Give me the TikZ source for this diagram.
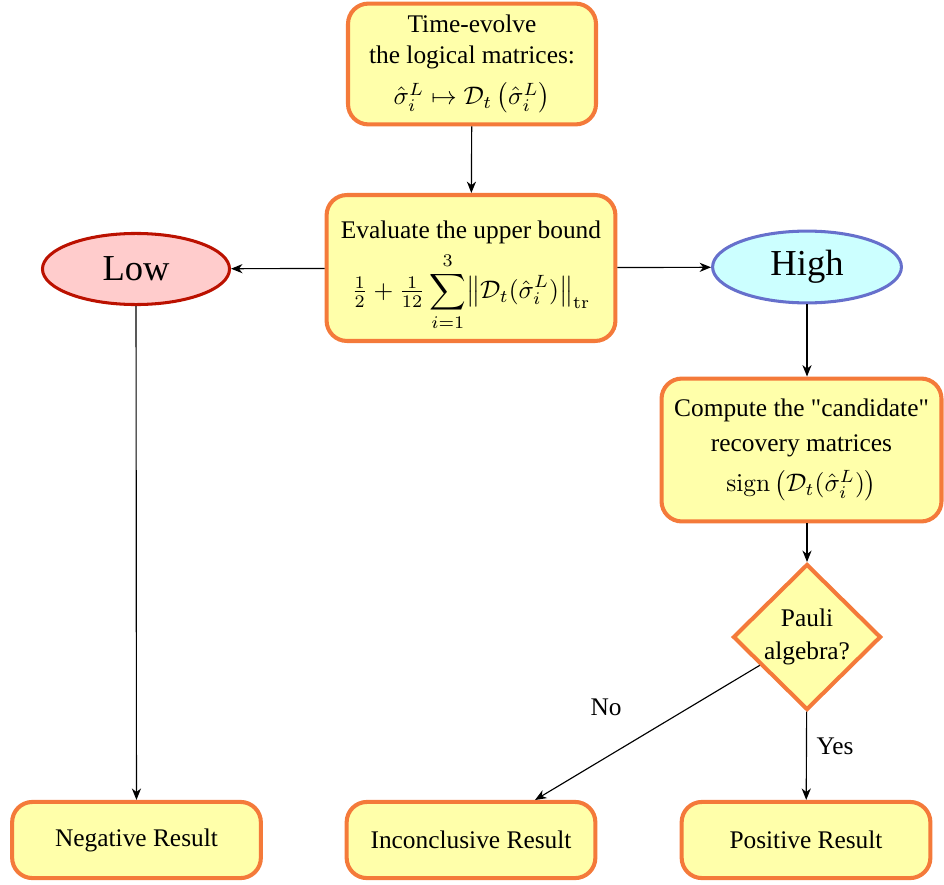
\documentclass[tikz,border=0pt]{standalone}
\usepackage{amsmath}
\usepackage[no-math]{fontspec}
\setmainfont{Liberation Serif}
\usetikzlibrary{shapes.geometric,arrows.meta}

\definecolor{boxfill}{HTML}{FFFFAA}
\definecolor{boxedge}{HTML}{F47A3A}
\definecolor{lowfill}{HTML}{FFCCCC}
\definecolor{lowedge}{HTML}{BB1100}
\definecolor{highfill}{HTML}{CCFFFF}
\definecolor{highedge}{HTML}{6670CC}

\tikzset{
  procbox/.style={draw=boxedge, fill=boxfill, line width=1.6pt, rounded corners=8pt,
    align=center, inner sep=2pt},
  resultbox/.style={procbox, minimum width=98pt, minimum height=30pt},
  lowoval/.style={ellipse, draw=lowedge, fill=lowfill, line width=1.2pt,
    minimum width=73.7pt, minimum height=28pt, inner sep=0pt, font=\Large},
  highoval/.style={ellipse, draw=highedge, fill=highfill, line width=1.2pt,
    minimum width=74.4pt, minimum height=28.3pt, inner sep=0pt, font=\Large},
  decision/.style={diamond, draw=boxedge, fill=boxfill, line width=1.6pt,
    minimum width=58.3pt, minimum height=57.5pt, inner sep=0pt, align=center},
  link/.style={-{Stealth[length=4.5pt,width=3.6pt,inset=1.4pt]}, line width=0.45pt, black}
}

\begin{document}
\begin{tikzpicture}[x=0.394pt, y=-0.394pt]
  \useasboundingbox (0,0) rectangle (944,884);

  \node[procbox, minimum width=97.7pt, minimum height=47.6pt] (evolve) at (472,64)
    {Time-evolve\\[0.5pt] the logical matrices:\\[4pt] $\hat{\sigma}_i^L \mapsto \mathcal{D}_t\left(\hat{\sigma}_i^L\right)$};

  \node[procbox, minimum width=113.8pt, minimum height=57.5pt] (bound) at (471,268)
    {\rule{0pt}{13pt}Evaluate the upper bound\\[2.5pt]
     $\tfrac{1}{2}+\tfrac{1}{12}\displaystyle\sum_{i=1}^{3}\bigl\|\mathcal{D}_t(\hat{\sigma}_i^L)\bigr\|_{\mathrm{tr}}$};

  \node[lowoval] (low) at (136,269) {Low};
  \node[highoval] (high) at (807,267) {High};

  \node[procbox, minimum width=110.3pt, minimum height=56.3pt] (cand) at (801.5,450)
    {Compute the \textquotedbl candidate\textquotedbl\\[1.5pt] recovery matrices\\[4pt]
     $\mathrm{sign}\,\bigl(\mathcal{D}_t(\hat{\sigma}_i^L)\bigr)$};

  \node[decision] (pauli) at (807,637) {Pauli\\[1pt] algebra?};

  \node[resultbox] (neg) at (136.5,840) {Negative Result};
  \node[resultbox] (inc) at (471,840) {Inconclusive Result};
  \node[resultbox] (pos) at (806,840) {Positive Result};

  \coordinate (incin) at (535,800);

  \draw[link] (evolve) -- (bound);
  \draw[link] (bound) -- (low);
  \draw[link] (bound) -- (high);
  \draw[link] (high) -- (cand.north -| high);
  \draw[link] (cand.south -| pauli) -- (pauli);
  \draw[link] (low) -- (neg);
  \draw[link] (pauli) -- (pos);
  \draw[link] (pauli) -- (incin);

  \node (no) at (606,707) {No};
  \node (yes) at (835,746) {Yes};
\end{tikzpicture}
\end{document}
